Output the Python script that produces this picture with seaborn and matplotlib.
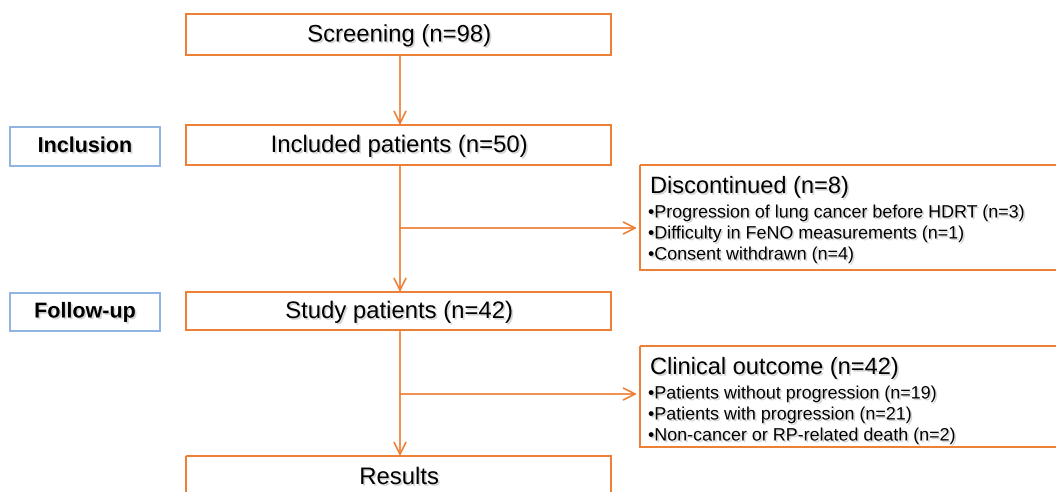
import matplotlib
matplotlib.use("Agg")
import seaborn as sns
from matplotlib import pyplot as plt
from matplotlib.patches import Rectangle
import matplotlib.patheffects as pe

# flow data
main_labels = ["Screening", "Included patients", "Study patients", "Results"]
main_n = [98, 50, 42, None]
stage_labels = ["Inclusion", "Follow-up"]
discontinued_title = "Discontinued"
discontinued_reasons = ["Progression of lung cancer before HDRT",
                        "Difficulty in FeNO measurements",
                        "Consent withdrawn"]
discontinued_n = [3, 1, 4]
outcome_title = "Clinical outcome"
outcome_groups = ["Patients without progression",
                  "Patients with progression",
                  "Non-cancer or RP-related death"]
outcome_n = [19, 21, 2]

ORANGE = "#ED7D31"
BLUE = "#8DB3E2"
FONT = "Liberation Sans"

def label(name, n):
    return name if n is None else f"{name} (n={n})"

def box(ax, x0, y0, x1, y1, color):
    ax.add_patch(Rectangle((x0, y0), x1 - x0, y1 - y0, fill=False,
                           edgecolor=color, linewidth=1.4, clip_on=False))

def arrow(ax, x0, y0, x1, y1):
    ax.annotate("", xy=(x1, y1), xytext=(x0, y0),
                arrowprops=dict(arrowstyle="->,head_length=0.7,head_width=0.35",
                                color=ORANGE, lw=1.2, shrinkA=0, shrinkB=0))

shadow = [pe.withSimplePatchShadow(offset=(1.2, -1.2), shadow_rgbFace="#888888", alpha=0.35)]

def main():
    sns.set_theme(style="white")
    plt.rcParams["font.family"] = [FONT, "DejaVu Sans"]

    fig = plt.figure(figsize=(10.56, 4.92), dpi=100)
    ax = fig.add_axes([0, 0, 1, 1])
    ax.set_xlim(0, 1056)
    ax.set_ylim(492, 0)
    ax.axis("off")

    # main column boxes
    main_boxes = [(14, 55), (125, 165), (292, 330), (456, 500)]
    for (y0, y1), name, n in zip(main_boxes, main_labels, main_n):
        box(ax, 186, y0, 611, y1, ORANGE)
        ty = (y0 + y1) / 2 + 1 if n is not None else 478
        ax.text(399, ty, label(name, n), ha="center", va="center",
                fontsize=17.2, color="black", path_effects=shadow)

    # stage boxes on the left
    for (y0, y1), name in zip([(127, 166), (293, 331)], stage_labels):
        box(ax, 10, y0, 160, y1, BLUE)
        ax.text(85, (y0 + y1) / 2, name, ha="center", va="center",
                fontsize=15.5, fontweight="bold", color="black", path_effects=shadow)

    # connectors
    arrow(ax, 400, 55, 400, 125)
    arrow(ax, 400, 165, 400, 292)
    arrow(ax, 400, 228, 637, 228)
    arrow(ax, 400, 330, 400, 456)
    arrow(ax, 400, 394, 637, 394)

    # side boxes
    sides = [(165, 270, discontinued_title, discontinued_reasons, discontinued_n, sum(discontinued_n)),
             (346, 447, outcome_title, outcome_groups, outcome_n, sum(outcome_n))]
    for y0, y1, title, items, counts, total in sides:
        box(ax, 640, y0, 1060, y1, ORANGE)
        ax.text(650, y0 + 22, label(title, total), ha="left", va="center",
                fontsize=17, color="black", path_effects=shadow)
        for i, (item, c) in enumerate(zip(items, counts)):
            ax.text(648, y0 + 48 + i * 21, "\u2022" + label(item, c), ha="left",
                    va="center", fontsize=12.9, color="black", path_effects=shadow)

    fig.savefig("out.png", dpi=100)

if __name__ == "__main__":
    main()
